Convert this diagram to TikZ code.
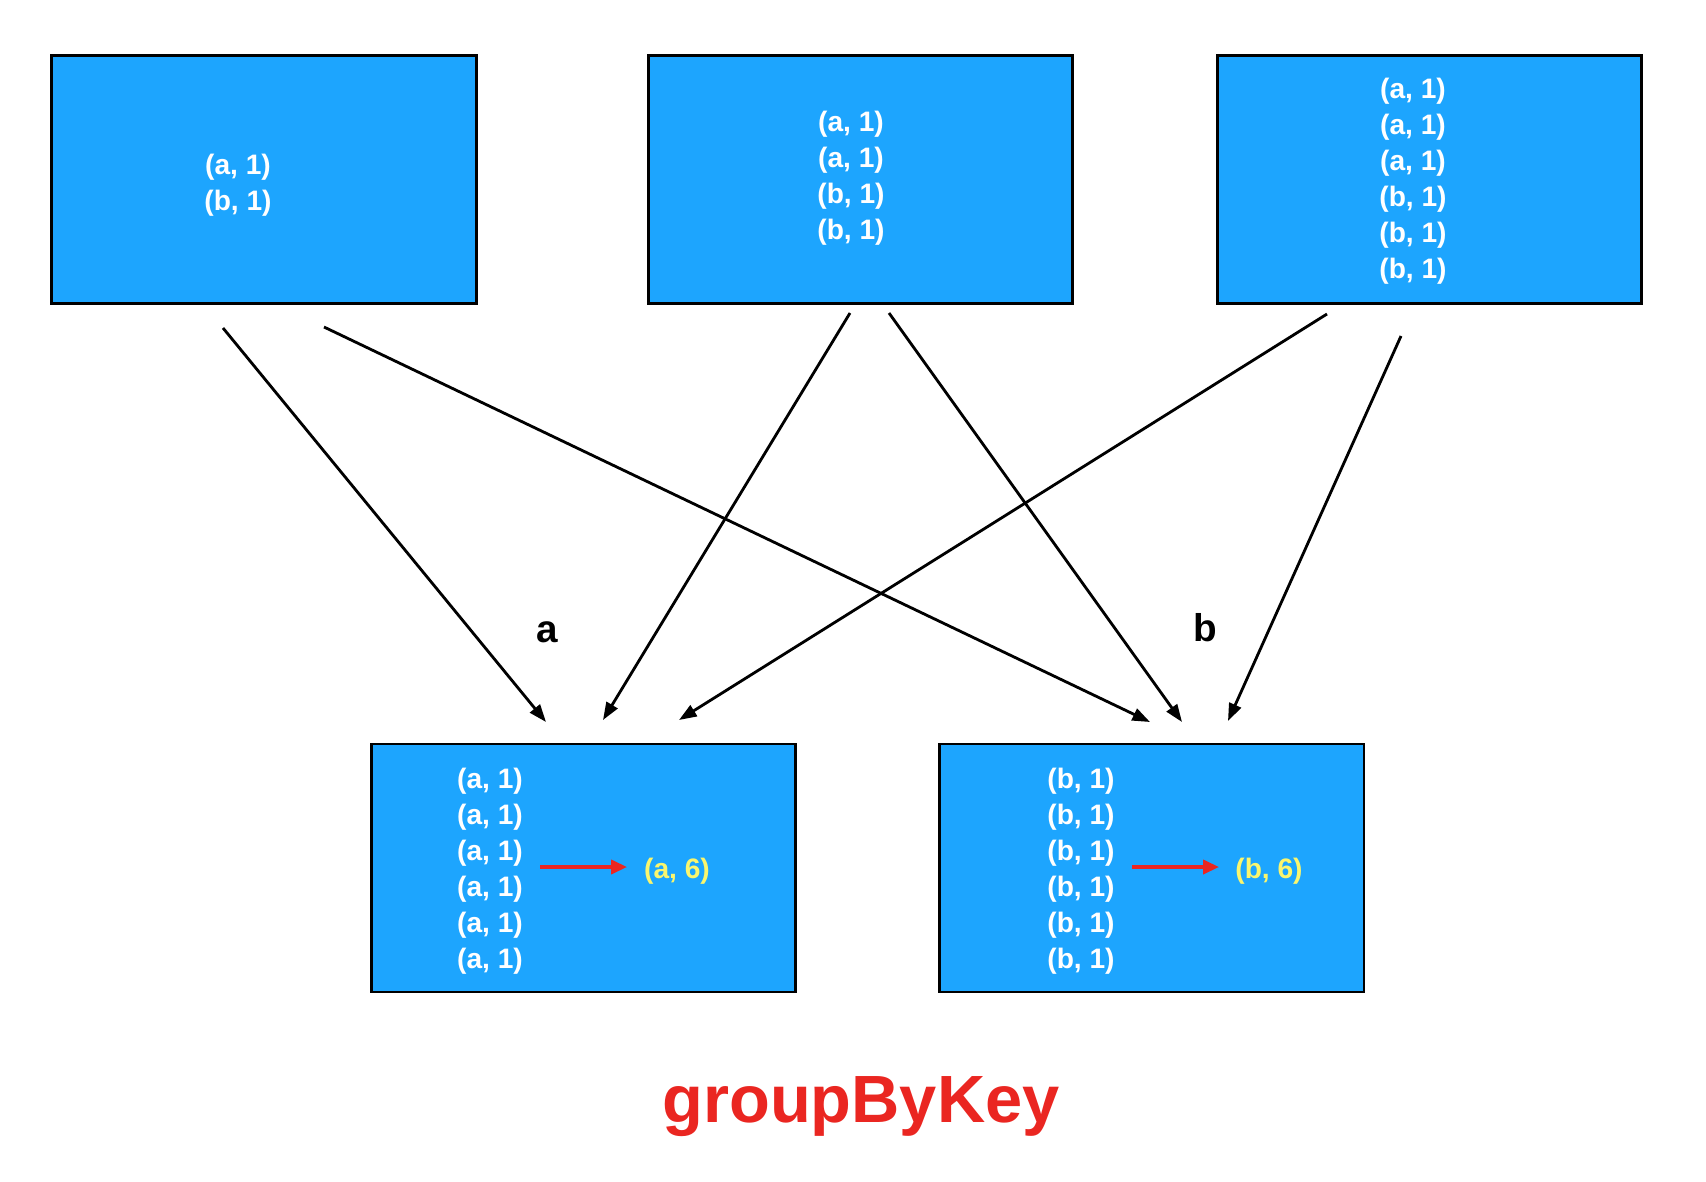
\documentclass[tikz,border=0pt]{standalone}
\usepackage{fontspec}
\setmainfont{Liberation Sans}
\usetikzlibrary{arrows.meta, positioning}
\definecolor{partblue}{RGB}{29,165,254}
\definecolor{sumyellow}{RGB}{250,246,110}
\definecolor{keyred}{RGB}{234,38,33}

\begin{document}
\begin{tikzpicture}[
    x=0.01cm, y=-0.01cm,
    part/.style={rectangle, draw=black, line width=0.8pt, fill=partblue, minimum width=4.24cm, minimum height=2.48cm, inner sep=0pt, outer sep=0pt},
    pairs/.style={text=white, font=\fontsize{8}{10.24}\selectfont\bfseries, align=center, inner sep=0pt},
    keylbl/.style={font=\fontsize{11}{13}\selectfont\bfseries, anchor=base, inner sep=0pt},
    arr/.style={-{Triangle[length=5pt, width=3.6pt]}, line width=0.8pt},
    sumarr/.style={-{Triangle[length=4.5pt, width=4pt]}, line width=0.9pt, keyred},
]
\useasboundingbox (0,0) rectangle (1706,1182);

% Input partitions
\node[part] (in1) at (264,179.5) {};
\node[part, right=1.72cm of in1] (in2) {};
\node[part, right=1.45cm of in2] (in3) {};

\node[pairs] (p1) at (238,185) {(a, 1)\\(b, 1)};
\node[pairs] (p2) at (851,178) {(a, 1)\\(a, 1)\\(b, 1)\\(b, 1)};
\node[pairs] (p3) at (1413,181) {(a, 1)\\(a, 1)\\(a, 1)\\(b, 1)\\(b, 1)\\(b, 1)};

% Grouped partitions
\node[part] (outa) at (583.5,868) {};
\node[part, right=1.44cm of outa] (outb) {};

\node[pairs] (ga) at (490,871) {(a, 1)\\(a, 1)\\(a, 1)\\(a, 1)\\(a, 1)\\(a, 1)};
\node[pairs] (gb) at (1081,871) {(b, 1)\\(b, 1)\\(b, 1)\\(b, 1)\\(b, 1)\\(b, 1)};

\node[pairs, text=sumyellow] (suma) at (677,871) {(a, 6)};
\node[pairs, text=sumyellow] (sumb) at (1269,871) {(b, 6)};

\coordinate (ra1) at (540,867);
\coordinate (ra2) at (627,867);
\coordinate (rb1) at (1132,867);
\coordinate (rb2) at (1219,867);
\draw[sumarr] (ra1) -- (ra2);
\draw[sumarr] (rb1) -- (rb2);

% Keys
\node[keylbl] (ka) at (547,642) {a};
\node[keylbl] (kb) at (1205,641) {b};

% Shuffle arrows
\coordinate (s1a) at (223,328);
\coordinate (s1b) at (324,327);
\coordinate (s2a) at (850,313);
\coordinate (s2b) at (889,313);
\coordinate (s3a) at (1327,314);
\coordinate (s3b) at (1401,336);
\coordinate (ta1) at (546,722);
\coordinate (ta2) at (603,720);
\coordinate (ta3) at (679,720);
\coordinate (tb1) at (1150,722);
\coordinate (tb2) at (1182,722);
\coordinate (tb3) at (1228,721);

\draw[arr] (s1a) -- (ta1);
\draw[arr] (s1b) -- (tb1);
\draw[arr] (s2a) -- (ta2);
\draw[arr] (s2b) -- (tb2);
\draw[arr] (s3a) -- (ta3);
\draw[arr] (s3b) -- (tb3);

% Title
\node[font=\fontsize{19}{23}\selectfont\bfseries, text=keyred, anchor=base, inner sep=0pt] (title) at (861,1122) {groupByKey};

\end{tikzpicture}
\end{document}
